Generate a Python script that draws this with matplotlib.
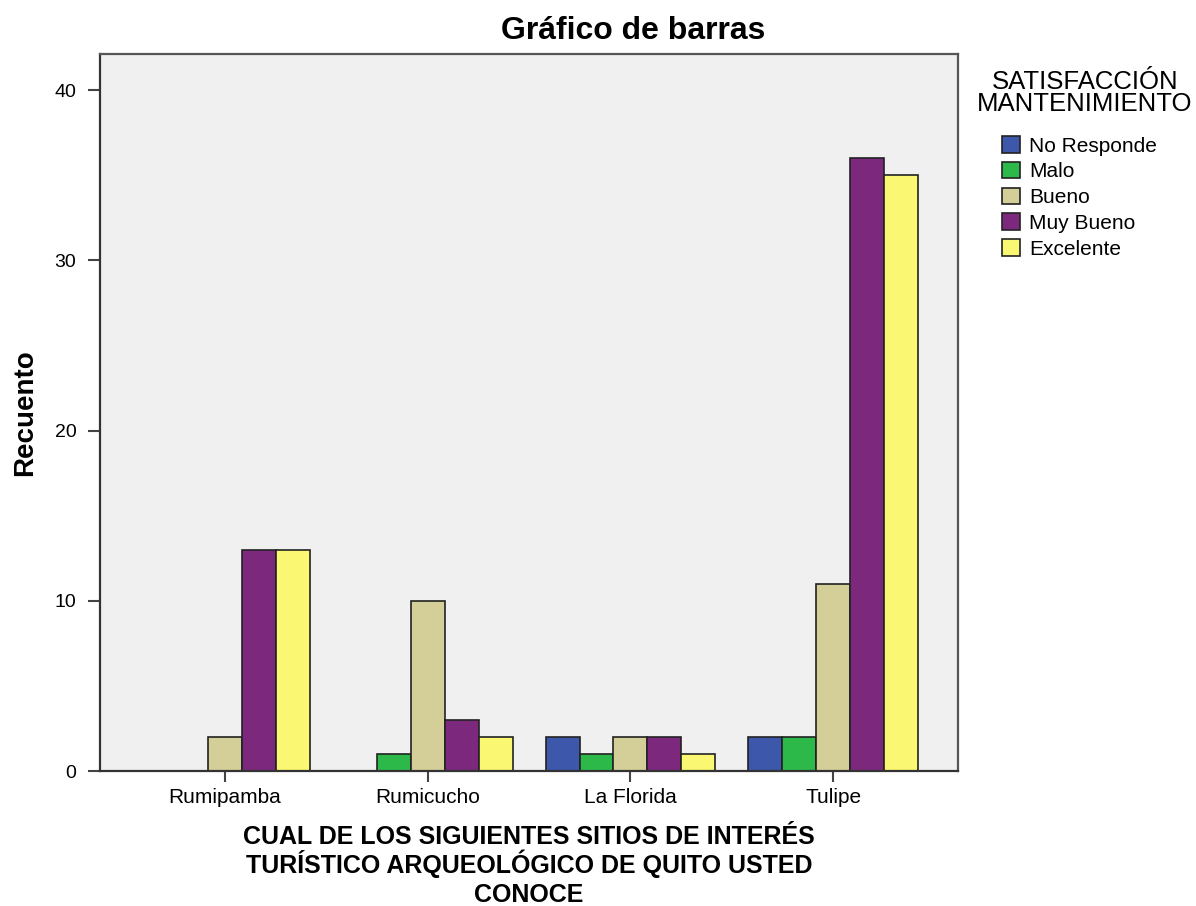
import numpy as np
import matplotlib
matplotlib.use("Agg")
import matplotlib.pyplot as plt
from matplotlib.patches import Patch

plt.rcParams["font.family"] = ["Liberation Sans", "DejaVu Sans"]

sitios = ["Rumipamba", "Rumicucho", "La Florida", "Tulipe"]
niveles = ["No Responde", "Malo", "Bueno", "Muy Bueno", "Excelente"]
colores = ["#3D57AB", "#2DB84A", "#D4CF98", "#7C287C", "#FAF772"]

no_responde = [0, 0, 2, 2]
malo = [0, 1, 1, 2]
bueno = [2, 10, 2, 11]
muy_bueno = [13, 3, 2, 36]
excelente = [13, 2, 1, 35]
series = [no_responde, malo, bueno, muy_bueno, excelente]

xlabel_lineas = ["CUAL DE LOS SIGUIENTES SITIOS DE INTERÉS",
                 "TURÍSTICO ARQUEOLÓGICO DE QUITO USTED",
                 "CONOCE"]

W, H = 1196, 906
fig = plt.figure(figsize=(W / 100, H / 100), dpi=100)
ax = fig.add_axes([0.0836, 0.149, 0.7175, 0.791])
ax.set_facecolor("#F0F0F0")

x = np.arange(len(sitios))
w = 0.1675
for i, (vals, col) in enumerate(zip(series, colores)):
    off = (i - 2) * w
    for xi, v in zip(x, vals):
        if v == 0:
            continue
        ax.bar(xi + off, v, width=w, color=col, edgecolor="#222222", linewidth=1.2)

ax.set_xlim(-0.615, 3.615)
ax.set_ylim(0, 42.1)
ax.set_yticks([0, 10, 20, 30, 40])
ax.set_xticks(x)
ax.set_xticklabels(sitios, fontsize=15)
ax.tick_params(axis="y", labelsize=14, length=9, width=1.5, color="#444444", pad=8)
ax.tick_params(axis="x", length=8, width=1.5, color="#444444", pad=4)
for side in ["left", "bottom"]:
    ax.spines[side].set_linewidth(1.6)
    ax.spines[side].set_color("#333333")
for side in ["top", "right"]:
    ax.spines[side].set_linewidth(1.6)
    ax.spines[side].set_color("#555555")

fig.text(633 / W, 1 - 31 / H, "Gráfico de barras", fontsize=23, fontweight="bold",
         ha="center", va="center")
ax.set_ylabel("Recuento", fontsize=20, fontweight="bold", labelpad=12)

# título del eje x en tres líneas, cada una sobre su línea base
for linea, base in zip(xlabel_lineas, [844, 873, 902]):
    fig.text(529 / W, 1 - base / H, linea, fontsize=18, fontweight="bold",
             ha="center", va="baseline")

# leyenda: título aparte para controlar el interlineado
fig.text(1085 / W, 1 - 93 / H, "SATISFACCIÓN\nMANTENIMIENTO", fontsize=18.5,
         ha="center", va="center", multialignment="center", linespacing=0.9)
handles = [Patch(facecolor=c, edgecolor="#222222", linewidth=1.2, label=n)
           for c, n in zip(colores, niveles)]
leg = fig.legend(handles=handles, loc="upper left",
                 bbox_to_anchor=(1002 / W, 1 - 136 / H),
                 frameon=False, fontsize=15, borderpad=0,
                 handlelength=0.85, handleheight=0.85, handletextpad=0.45,
                 labelspacing=0.3, borderaxespad=0)

fig.savefig("out.png", dpi=100)
